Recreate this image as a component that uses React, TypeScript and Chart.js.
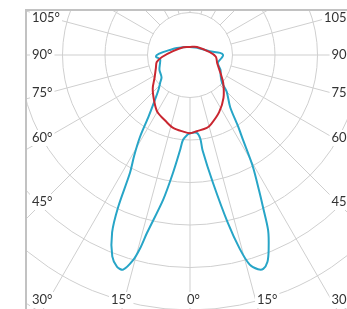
import React, { useEffect, useRef } from 'react';
import { Chart, registerables } from 'chart.js';
Chart.register(...registerables);

// Polar light-distribution data: angle from nadir (deg, + = right), intensity (arbitrary units, ring = 100)
const cyanAngles = [-180, -160, -140, -118, -104, -96, -90, -87, -82, -75, -64, -52, -47, -42, -38, -34, -31.4, -29, -27, -25.3, -23.7, -21.1, -19, -17.3, -15.5, -14.5, -13.6, -10.5, -8.2, -6, -4.7, -2, 0, 5, 7, 7.5, 10.2, 12.7, 14.4, 15.9, 17.6, 18.9, 20.5, 22, 24, 25.6, 27, 29.4, 32, 34, 37.6, 45, 49, 56, 64, 74, 85, 90, 94, 101, 135, 180];
const cyanValues = [19, 20, 24, 35, 49, 64, 78, 80, 71, 73, 80, 85, 96, 111, 134, 174, 226, 271, 311, 395, 456, 508, 527, 529, 501, 471, 431, 346, 280, 226, 200, 188, 184, 184, 198, 226, 306, 405, 471, 513, 529, 532, 520, 494, 452, 398, 358, 301, 235, 202, 155, 122, 100, 87, 80, 68, 75, 78, 71, 47, 24, 19];

const redAngles = [-180, -140, -103, -86, -78, -69, -58, -48, -38, -30, -20, -13, -5, 0, 5, 13, 17, 27, 38, 50, 59, 73, 86, 98, 139, 180];
const redValues = [19, 24, 41, 66, 80, 86, 98, 118, 137, 154, 166, 176, 181, 184, 180, 176, 170, 151, 128, 102, 84, 67, 61, 47, 25, 19];

const ringValues = [100, 200, 300, 400, 500, 600, 700, 800, 900];
const spokeAngles = [0, 15, 30, 45, 60, 75, 90, 105, 120, 135, 150, 165, 180, 195, 210, 225, 240, 255, 270, 285, 300, 315, 330, 345];
const sideLabels = ['105°', '90°', '75°', '60°', '45°', '30°'];
const bottomLabels = ['15°', '0°', '15°'];

const toXY = (angles: number[], values: number[]) =>
  angles.map((a, i) => ({
    x: values[i] * Math.sin((a * Math.PI) / 180),
    y: -values[i] * Math.cos((a * Math.PI) / 180),
  }));

const polarGrid = {
  id: 'polarGrid',
  beforeDatasetsDraw(chart: any) {
    const { ctx, scales } = chart;
    const xs = scales.x;
    const ys = scales.y;
    const cx = xs.getPixelForValue(0);
    const cy = ys.getPixelForValue(0);
    const px = (v: number) => xs.getPixelForValue(v) - cx;
    const fl = cx - 164;
    const ft = cy - 45;
    const W = chart.width;
    const H = chart.height;

    ctx.save();
    ctx.beginPath();
    ctx.rect(fl, ft, W - fl, H - ft);
    ctx.clip();
    ctx.strokeStyle = '#cfcfcf';
    ctx.lineWidth = 1;
    ringValues.forEach((r) => {
      ctx.beginPath();
      ctx.arc(cx, cy, px(r), 0, Math.PI * 2);
      ctx.stroke();
    });
    spokeAngles.forEach((a) => {
      const s = Math.sin((a * Math.PI) / 180);
      const c = Math.cos((a * Math.PI) / 180);
      const r0 = ringValues[0];
      const r1 = 1000;
      ctx.beginPath();
      ctx.moveTo(xs.getPixelForValue(r0 * s), ys.getPixelForValue(-r0 * c));
      ctx.lineTo(xs.getPixelForValue(r1 * s), ys.getPixelForValue(-r1 * c));
      ctx.stroke();
    });
    ctx.restore();

    ctx.save();
    ctx.font = '13px Lato, "Open Sans", sans-serif';
    ctx.textBaseline = 'middle';
    const sideOffsets = [-37, 0, 38, 83, 147, 245];
    const drawLabel = (t: string, x: number, y: number, align: 'left' | 'right') => {
      const w = ctx.measureText(t).width;
      const left = align === 'left' ? x : x - w;
      ctx.fillStyle = '#ffffff';
      ctx.fillRect(left - 2, y - 8, w + 4, 16);
      ctx.fillStyle = '#333333';
      ctx.textAlign = align;
      ctx.fillText(t, x, y);
    };
    sideLabels.forEach((t, i) => {
      drawLabel(t, cx - 158, cy + sideOffsets[i], 'left');
      drawLabel(t, cx + 162, cy + sideOffsets[i], 'right');
    });
    const bottomOffsets = [-79, -3, 67];
    bottomLabels.forEach((t, i) => {
      drawLabel(t, cx + bottomOffsets[i], cy + 245, 'left');
    });
    ctx.strokeStyle = '#c2c2c2';
    ctx.lineWidth = 2;
    ctx.beginPath();
    ctx.moveTo(fl, H);
    ctx.lineTo(fl, ft);
    ctx.lineTo(W, ft);
    ctx.stroke();
    ctx.restore();
  },
};

export default function App() {
  const ref = useRef<HTMLCanvasElement>(null);
  useEffect(() => {
    if (!ref.current) return;
    const upp = 100 / 42.5;
    const cxp = 190;
    const cyp = 55;
    const chart = new Chart(ref.current, {
      type: 'scatter',
      data: {
        datasets: [
          {
            label: 'C90-C270',
            data: toXY(redAngles, redValues),
            showLine: true,
            borderColor: '#c92630',
            borderWidth: 2,
            pointRadius: 0,
            tension: 0.3,
            fill: false,
          },
          {
            label: 'C0-C180',
            data: toXY(cyanAngles, cyanValues),
            showLine: true,
            borderColor: '#27a5c7',
            borderWidth: 2,
            pointRadius: 0,
            tension: 0.3,
            fill: false,
          },
        ],
      },
      options: {
        responsive: false,
        maintainAspectRatio: false,
        animation: false,
        devicePixelRatio: 1,
        layout: { padding: 0 },
        plugins: { legend: { display: false }, tooltip: { enabled: false } },
        scales: {
          x: { type: 'linear', display: false, min: -cxp * upp, max: (347 - cxp) * upp },
          y: { type: 'linear', display: false, min: -(309 - cyp) * upp, max: cyp * upp },
        },
      },
      plugins: [polarGrid],
    });
    return () => chart.destroy();
  }, []);
  return (
    <div style={{ position: 'absolute', left: 0, top: 0, width: 347, height: 309, overflow: 'hidden', background: '#fff' }}>
      <canvas ref={ref} width={347} height={309} style={{ width: 347, height: 309, display: 'block' }} />
    </div>
  );
}
